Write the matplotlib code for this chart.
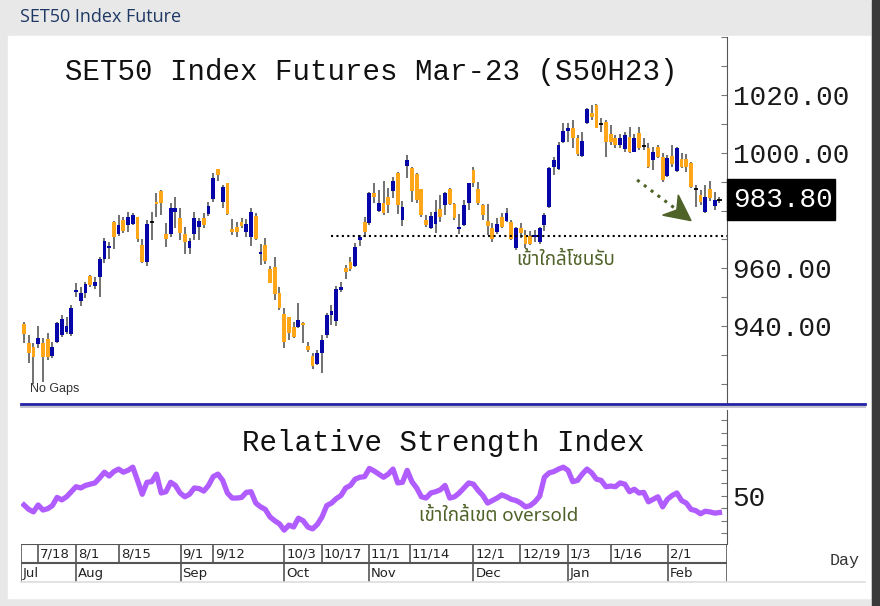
import matplotlib
matplotlib.use('Agg')
import matplotlib.pyplot as plt
from matplotlib.patches import Rectangle, Polygon
from matplotlib.lines import Line2D
from matplotlib import font_manager
from matplotlib.ft2font import FT2Font

# daily OHLC, Jul-2022 .. Feb-2023 (blue = close above open, orange = below)
opens = [940.7, 934.1, 932.7, 933.8, 934.1, 935.5, 929.6, 934.5, 936.9, 937.9,
         937.2, 951.8, 948.7, 951.4, 957.3, 953.9, 957.0, 963.2, 967.0, 976.0,
         971.9, 976.7, 975.0, 975.3, 977.8, 968.1, 962.2, 976.0, 982.9, 986.8,
         971.9, 971.9, 979.5, 977.4, 971.9, 967.0, 971.9, 974.3, 977.4, 978.8,
         984.0, 994.4, 982.9, 989.5, 973.6, 974.3, 976.0, 972.6, 970.8, 978.1,
         964.9, 968.1, 959.7, 960.4, 951.4, 944.2, 943.1, 939.7, 939.7, 941.0,
         933.1, 929.6, 926.8, 930.7, 936.9, 943.8, 941.7, 952.5, 960.1, 962.2,
         960.8, 969.8, 976.0, 975.7, 986.1, 979.8, 982.6, 984.7, 986.8, 993.0,
         976.7, 995.4, 994.7, 992.6, 987.4, 976.7, 973.9, 975.3, 980.5, 981.9,
         987.4, 982.3, 973.6, 975.0, 982.6, 994.0, 987.4, 981.9, 976.4, 973.9,
         972.6, 977.8, 976.4, 976.0, 967.0, 973.9, 971.5, 971.2, 970.8, 969.1,
         975.0, 981.2, 995.1, 994.4, 1003.7, 1007.5, 1008.6, 1005.1, 998.9, 1010.3,
         1013.8, 1016.5, 1009.9, 1010.6, 1006.5, 1005.1, 1002.7, 1001.3, 1005.5, 1000.3,
         1006.8, 1002.3, 1001.6, 997.5, 1002.0, 998.5, 991.9, 998.9, 993.7, 997.8,
         997.8, 996.5, 987.4, 985.4, 979.5, 987.4, 981.6, 983.8]
highs = [941.4, 936.9, 934.1, 940.0, 935.9, 937.6, 934.5, 941.4, 943.8, 943.1,
         947.3, 954.9, 953.5, 955.2, 957.7, 957.0, 963.9, 970.5, 969.1, 976.4,
         978.4, 977.8, 979.5, 979.1, 977.8, 970.1, 976.7, 979.5, 986.1, 987.1,
         975.7, 982.6, 984.7, 980.9, 974.3, 970.5, 979.5, 977.4, 979.1, 982.9,
         993.0, 994.4, 988.8, 989.5, 977.1, 976.0, 977.4, 977.1, 980.9, 979.1,
         968.4, 970.5, 960.8, 963.9, 953.5, 946.2, 943.1, 941.4, 948.0, 941.4,
         934.5, 930.7, 931.7, 936.9, 944.5, 947.3, 953.9, 955.2, 961.1, 963.9,
         968.7, 971.5, 977.8, 986.4, 989.5, 987.1, 990.2, 987.8, 991.6, 993.3,
         983.3, 999.2, 995.1, 993.0, 987.4, 978.4, 979.5, 983.6, 985.4, 986.4,
         987.8, 982.6, 978.8, 983.6, 989.5, 995.1, 989.9, 982.3, 982.3, 975.7,
         977.4, 979.1, 980.9, 976.7, 974.3, 975.7, 973.3, 972.9, 973.3, 974.3,
         979.1, 995.1, 998.5, 1003.7, 1010.3, 1010.3, 1011.3, 1006.2, 1007.2, 1015.5,
         1016.5, 1016.9, 1012.0, 1011.3, 1009.6, 1006.2, 1006.5, 1007.2, 1008.9, 1006.5,
         1008.9, 1005.1, 1003.4, 1002.0, 1002.7, 999.9, 999.2, 1002.7, 1002.0, 999.9,
         999.6, 996.8, 988.8, 987.1, 988.8, 990.2, 986.4, 984.7]
lows = [934.1, 927.2, 919.9, 932.4, 920.6, 928.2, 928.9, 934.1, 936.2, 937.2,
        936.5, 950.1, 946.9, 949.7, 953.5, 952.8, 950.1, 961.8, 963.2, 966.7,
        971.2, 972.2, 972.6, 975.0, 969.1, 961.8, 960.8, 969.8, 977.7, 978.4,
        967.4, 970.8, 973.9, 969.8, 964.9, 964.9, 969.8, 969.8, 973.9, 978.1,
        982.9, 990.2, 980.9, 978.4, 971.5, 970.8, 973.9, 970.8, 967.7, 969.8,
        961.1, 961.5, 954.9, 949.0, 945.6, 932.4, 935.2, 935.9, 939.3, 934.1,
        931.0, 925.1, 926.5, 923.7, 935.9, 940.4, 940.0, 951.8, 956.3, 959.1,
        960.4, 967.7, 970.8, 975.0, 982.6, 979.5, 978.4, 979.1, 984.3, 978.8,
        974.6, 991.3, 983.0, 982.6, 977.8, 974.3, 973.6, 972.2, 976.0, 978.4,
        981.9, 976.7, 971.9, 974.6, 980.2, 988.1, 981.9, 976.7, 971.5, 969.1,
        971.9, 973.9, 976.0, 969.8, 966.3, 970.5, 967.0, 968.1, 969.1, 968.4,
        972.9, 980.9, 992.3, 994.0, 1003.4, 1003.7, 1001.6, 998.9, 998.5, 1009.9,
        1011.3, 1008.6, 1007.2, 998.5, 1002.7, 1001.6, 1001.6, 1000.3, 999.9, 1000.3,
        1001.0, 1001.0, 994.7, 994.0, 998.2, 989.9, 991.6, 995.1, 993.3, 994.7,
        993.3, 987.8, 981.2, 981.9, 979.1, 983.3, 980.2, 982.6]
closes = [937.2, 930.7, 929.3, 935.9, 929.3, 929.3, 932.7, 941.0, 942.4, 940.0,
          946.2, 952.1, 951.4, 954.5, 954.2, 955.2, 963.2, 969.4, 967.4, 970.8,
          975.0, 972.9, 977.8, 978.4, 970.1, 962.2, 975.3, 976.0, 982.3, 982.6,
          970.1, 980.9, 980.9, 972.2, 969.1, 969.4, 977.4, 976.4, 975.0, 981.6,
          991.3, 992.3, 988.1, 978.8, 972.6, 972.6, 974.6, 975.3, 979.5, 970.1,
          965.3, 962.5, 954.9, 951.1, 946.2, 934.5, 937.6, 936.2, 942.1, 940.4,
          931.7, 926.2, 930.7, 935.2, 943.8, 945.2, 952.8, 953.5, 958.7, 959.7,
          967.4, 970.8, 972.6, 986.1, 984.7, 982.6, 979.1, 981.9, 990.2, 981.9,
          981.2, 997.5, 986.8, 983.6, 978.4, 975.0, 978.1, 979.5, 977.8, 986.1,
          982.3, 977.4, 974.3, 981.9, 989.5, 989.5, 982.6, 978.4, 974.6, 970.1,
          975.3, 974.3, 979.1, 970.1, 973.9, 972.2, 968.4, 968.4, 971.2, 973.9,
          978.4, 994.7, 997.5, 1002.7, 1007.5, 1008.6, 1005.1, 999.6, 1004.1, 1015.2,
          1012.4, 1008.6, 1009.9, 1003.7, 1003.7, 1002.7, 1005.1, 1006.2, 1000.3, 1005.1,
          1001.6, 1002.3, 995.1, 1000.3, 998.5, 990.6, 998.2, 996.1, 1001.6, 995.1,
          995.1, 988.1, 987.4, 982.9, 984.7, 984.3, 983.6, 983.8]
rsi = [42.5, 39, 37, 42.5, 38.5, 39.5, 42, 48.5, 46.5, 49,
       53, 57, 56, 58, 59, 60, 64, 68.5, 65.5, 69,
       71, 68.5, 70, 72.5, 62, 51, 60.5, 61, 67, 52,
       53, 60.5, 58, 52, 49, 51, 56, 55.5, 53.5, 58,
       65, 67, 62, 52, 48, 48, 48.5, 52.5, 53, 44,
       41, 39, 33, 30, 27.5, 22.5, 26.5, 25, 32, 30,
       25, 23.5, 27, 33, 42, 44, 47.5, 50, 56, 58,
       63, 64.5, 65, 71.5, 69.5, 67, 64.5, 67, 71, 60,
       60.5, 70, 61, 56, 49, 48, 52, 53, 54.5, 58,
       48, 49, 52, 56, 60, 59, 54, 50, 44, 46,
       48, 50.5, 49, 47, 46, 44, 41, 42, 45, 49.5,
       64.5, 68, 69, 71, 72.5, 70, 61, 62, 67, 71,
       68, 63, 62, 57, 57.5, 57, 60, 59, 53, 55,
       52, 52.5, 45, 47, 49, 41, 47, 50, 52, 46,
       44, 39, 38, 35.5, 37.5, 37, 36, 36.5]

date_pos = [3.0, 11.0, 20.1, 33.1, 40.0, 55.0, 62.9, 72.9, 81.6, 95.0, 104.9, 114.9, 124.0, 136.1]
date_labels = ['7/18', '8/1', '8/15', '9/1', '9/12', '10/3', '10/17', '11/1', '11/14',
               '12/1', '12/19', '1/3', '1/16', '2/1']
month_pos = [11.0, 33.1, 55.0, 72.9, 95.0, 114.9, 136.1]
month_labels = ['Aug', 'Sep', 'Oct', 'Nov', 'Dec', 'Jan', 'Feb']
price_labels = [940, 960, 1000, 1020]
last_price = 983.80
support = 971.2

W, H = 880, 606
X0, X1 = -0.63, 148.6

BLUE = '#0505a8'
ORANGE = '#ffa619'
OLIVE = '#4f6228'
PURPLE = '#b15cff'


def box(x0, y0, x1, y1):
    return [x0 / W, 1 - y1 / H, (x1 - x0) / W, (y1 - y0) / H]


def thai_font():
    names = {f.name for f in font_manager.fontManager.ttflist}
    for n in ['Noto Sans Thai', 'Noto Sans Thai Looped', 'Loma', 'Garuda', 'Sarabun', 'Tahoma']:
        if n in names:
            return n
    for f in font_manager.fontManager.ttflist:
        try:
            if 0x0E40 in FT2Font(f.fname).get_charmap():
                return f.name
        except Exception:
            pass
    return 'DejaVu Sans'


TH = thai_font()
MONO = 'Liberation Mono'

fig = plt.figure(figsize=(W / 100, H / 100), dpi=100, facecolor='#e8e8e8')

# page background pieces
bg = fig.add_axes([0, 0, 1, 1], zorder=-5)
bg.set_xlim(0, W)
bg.set_ylim(H, 0)
bg.axis('off')
bg.add_patch(Rectangle((8, 36), 862, 562, color='white'))
bg.add_patch(Rectangle((872, 0), 8, H, color='#3a3a3a'))
fig.text(20 / W, 1 - 17 / H, 'SET50 Index Future', fontsize=13, color='#1f3864',
         family='Open Sans', va='center', ha='left')

# ---- price panel ----
ax = fig.add_axes(box(21, 37, 727, 404))
ax.set_xlim(X0, X1)
ax.set_ylim(913.0, 1040.1)
idx = list(range(len(closes)))
ax.vlines(idx, lows, highs, color='#666666', lw=1.3, zorder=2)
for i in idx:
    o, c = opens[i], closes[i]
    if c == o:
        ax.hlines(c, i - 0.45, i + 0.45, color='black', lw=1.3, zorder=3)
        continue
    col = BLUE if c > o else ORANGE
    ax.bar(i, max(abs(c - o), 0.7), bottom=min(o, c), width=0.8, color=col, lw=0, zorder=3)

ax.hlines(support, 64.9, X1, colors='black', linestyles=(0, (1, 1.6)), lw=1.5, zorder=4)
ax.plot([129.6, 137.8], [990.6, 980.5], color=OLIVE, ls=(0, (1, 1.8)), lw=2.2, zorder=4)
ax.add_patch(Polygon([(141.0, 976.5), (138.3, 985.4), (138.0, 980.2), (135.0, 978.4)],
                     closed=True, color=OLIVE, zorder=4))
ax.text(114.4, 962.8, 'เข้าใกล้โซนรับ', family=TH, fontsize=13.5, color=OLIVE,
        ha='center', va='center')

for s in ['top', 'left', 'bottom']:
    ax.spines[s].set_visible(False)
ax.spines['right'].set_color('#555555')
ax.set_xticks([])
ax.yaxis.tick_right()
ax.set_yticks(range(920, 1041, 10))
ax.set_yticklabels(['%.2f' % v if v in price_labels else '' for v in range(920, 1041, 10)])
ax.tick_params(axis='y', direction='in', length=4, color='#777777', pad=4,
               labelsize=20, labelcolor='#1a1a1a')
for t in ax.get_yticklabels():
    t.set_family(MONO)
ax.text(0.013, 0.04, 'No Gaps', transform=ax.transAxes, fontsize=9, color='#333333',
        family='Liberation Sans', ha='left', va='center')
fig.text(371 / W, 1 - 72 / H, 'SET50 Index Futures Mar-23 (S50H23)', family=MONO,
         fontsize=21, color='#111111', ha='center', va='center')

# last price box
fig.patches.append(Rectangle((727 / W, 1 - 220 / H), 108 / W, 41 / H, color='black',
                             transform=fig.transFigure, zorder=5))
fig.text(733 / W, 1 - 199.5 / H, '%.2f' % last_price, family=MONO, fontsize=20,
         color='white', ha='left', va='center', zorder=6)

# separator lines
fig.add_artist(Line2D([21 / W, 865 / W], [1 - 404.3 / H] * 2, color='#2323a5', lw=2))
fig.add_artist(Line2D([21 / W, 865 / W], [1 - 407.3 / H] * 2, color='#c4c4cc', lw=1.4))

# ---- RSI panel ----
rx = fig.add_axes(box(21, 410, 727, 544))
rx.set_xlim(X0, X1)
rx.set_ylim(11.5, 117.9)
rx.plot(idx, rsi, color=PURPLE, lw=3.8, solid_joinstyle='round')
for s in ['top', 'left', 'bottom']:
    rx.spines[s].set_visible(False)
rx.spines['right'].set_color('#555555')
rx.set_xticks([])
rx.yaxis.tick_right()
rx.set_yticks(range(20, 111, 10))
rx.set_yticklabels(['50' if v == 50 else '' for v in range(20, 111, 10)])
rx.tick_params(axis='y', direction='in', length=4, color='#777777', pad=4,
               labelsize=20, labelcolor='#1a1a1a')
for t in rx.get_yticklabels():
    t.set_family(MONO)
fig.text(443.5 / W, 1 - 443 / H, 'Relative Strength Index', family=MONO, fontsize=21,
         color='#111111', ha='center', va='center')
rx.text(100.4, 33.5, 'เข้าใกล้เขต oversold', family=TH, fontsize=13.5, color=OLIVE,
        ha='center', va='center')

# ---- date table ----
dx = fig.add_axes(box(21, 544, 727, 582))
dx.set_xlim(X0, X1)
dx.set_ylim(0, 2)
dx.axis('off')
dx.hlines([2, 1], X0, X1, color='#555555', lw=1.5)
dx.vlines(date_pos, 1, 2, color='#555555', lw=1.2)
dx.vlines(month_pos, 0, 1, color='#555555', lw=1.2)
dx.vlines([X0, X1], 0, 2, color='#555555', lw=1.2)
for p, lab in zip(date_pos, date_labels):
    dx.text(p + 0.4, 1.45, lab, fontsize=9.5, family='Liberation Sans Narrow',
            color='#222222', ha='left', va='center')
for p, lab in zip([X0] + month_pos, ['Jul'] + month_labels):
    dx.text(p + 0.4, 0.45, lab, fontsize=9.5, family='Liberation Sans Narrow',
            color='#222222', ha='left', va='center')
fig.add_artist(Line2D([21 / W, 865 / W], [1 - 582 / H] * 2, color='#dddddd', lw=1.2))
fig.text(830 / W, 1 - 560 / H, 'Day', family=MONO, fontsize=12, color='#333333',
         ha='left', va='center')

fig.savefig('out.png', dpi=100, facecolor=fig.get_facecolor())
